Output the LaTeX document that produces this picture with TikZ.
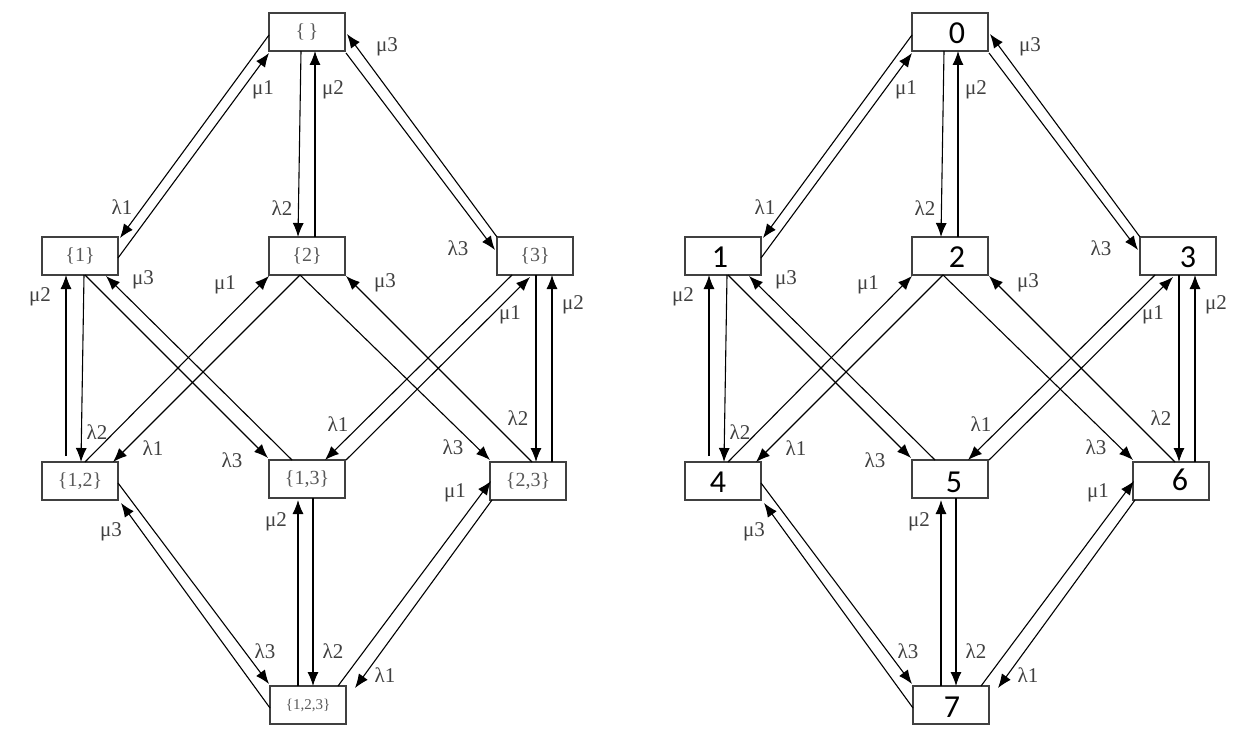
\documentclass[tikz,border=0pt]{standalone}
\usepackage{fontspec}
\setmainfont{Liberation Serif}
\newfontfamily\digitfont{Carlito}
\usetikzlibrary{arrows.meta,calc}
\tikzset{
 state/.style={draw=black!75, line width=1.8pt, minimum width=76pt, minimum height=38pt, inner sep=0pt},
 setlab/.style={text=black!65, font=\fontsize{20}{20}\selectfont, inner sep=0pt},
 numlab/.style={font=\digitfont\fontsize{32}{32}\selectfont, inner sep=0pt},
 trans/.style={line width=1.1pt, -{Latex[length=14pt,width=11pt]}},
 rate/.style={text=black!75, font=\fontsize{21}{21}\selectfont, inner sep=0pt},
}
\newcommand\placestates[1]{%
 \node[state] (#10) at (307,32) {};
 \node[state] (#11) at (80,256) {};
 \node[state] (#12) at (307,256) {};
 \node[state] (#13) at (535,256) {};
 \node[state] (#14) at (80,481) {};
 \node[state] (#15) at (307,479) {};
 \node[state] (#16) at (528,481) {};
 \node[state] (#17) at (308,705) {};
}
\newcommand\alledges[1]{%
 \draw[trans] ($(#10)+(-38,3)$) -- ($(#11)+(40,-18)$);
 \draw[trans] ($(#11)+(38,2)$) -- ($(#10)+(-38,21)$);
 \draw[trans] ($(#10)+(-6,19)$) -- ($(#12)+(-9,-19)$);
 \draw[trans] ($(#12)+(8,-19)$) -- ($(#10)+(8,19)$);
 \draw[trans] ($(#10)+(39,21)$) -- ($(#13)+(-40,-6)$);
 \draw[trans] ($(#13)+(-38,-19)$) -- ($(#10)+(40,2)$);
 \draw[trans] ($(#14)+(-14,-25)$) -- ($(#11)+(-14,19)$);
 \draw[trans] ($(#11)+(4,19)$) -- ($(#14)+(1,-19)$);
 \draw[trans] ($(#11)+(5,19)$) -- ($(#15)+(-39,-21)$);
 \draw[trans] ($(#15)+(-15,-19)$) -- ($(#11)+(26,20)$);
 \draw[trans] ($(#14)+(5,-19)$) -- ($(#12)+(-38,20)$);
 \draw[trans] ($(#12)+(-7,19)$) -- ($(#14)+(33,-19)$);
 \draw[trans] ($(#12)+(-7,19)$) -- ($(#16)+(-38,-21)$);
 \draw[trans] ($(#16)+(4,-19)$) -- ($(#12)+(39,20)$);
 \draw[trans] ($(#13)+(-23,19)$) -- ($(#15)+(18,-19)$);
 \draw[trans] ($(#15)+(39,-19)$) -- ($(#13)+(-5,21)$);
 \draw[trans] ($(#13)+(1,19)$) -- ($(#16)+(8,-19)$);
 \draw[trans] ($(#16)+(24,-19)$) -- ($(#13)+(17,19)$);
 \draw[trans] ($(#14)+(38,2)$) -- ($(#17)+(-39,-21)$);
 \draw[trans] ($(#17)+(-38,3)$) -- ($(#14)+(41,22)$);
 \draw[trans] ($(#17)+(-10,-19)$) -- ($(#15)+(-9,21)$);
 \draw[trans] ($(#15)+(6,19)$) -- ($(#17)+(5,-19)$);
 \draw[trans] ($(#17)+(30,-19)$) -- ($(#16)+(-37,0)$);
 \draw[trans] ($(#16)+(-36,19)$) -- ($(#17)+(47,-17)$);
}
\newcommand\allrates[1]{%
 \node[rate] (#1ra) at (263,90) {μ1};
 \node[rate] (#1rb) at (333,90) {μ2};
 \node[rate] (#1rc) at (387,47) {μ3};
 \node[rate] (#1rd) at (122,207) {λ1};
 \node[rate] (#1re) at (282,208) {λ2};
 \node[rate] (#1rf) at (458,248) {λ3};
 \node[rate] (#1rg) at (40,297) {μ2};
 \node[rate] (#1rh) at (143,280) {μ3};
 \node[rate] (#1ri) at (225,285) {μ1};
 \node[rate] (#1rj) at (385,283) {μ3};
 \node[rate] (#1rk) at (510,315) {μ1};
 \node[rate] (#1rl) at (573,305) {μ2};
 \node[rate] (#1rm) at (97,432) {λ2};
 \node[rate] (#1rn) at (153,448) {λ1};
 \node[rate] (#1ro) at (232,460) {λ3};
 \node[rate] (#1rp) at (338,424) {λ1};
 \node[rate] (#1rq) at (453,447) {λ3};
 \node[rate] (#1rr) at (518,418) {λ2};
 \node[rate] (#1rs) at (111,532) {μ3};
 \node[rate] (#1rt) at (276,522) {μ2};
 \node[rate] (#1ru) at (265,651) {λ3};
 \node[rate] (#1rv) at (333,651) {λ2};
 \node[rate] (#1rw) at (385,675) {λ1};
 \node[rate] (#1rx) at (455,493) {μ1};
}
\begin{document}
\begin{tikzpicture}[x=1pt,y=-1pt]
\useasboundingbox (0,0) rectangle (1247,738);
% left diagram
\placestates{L}
\node[setlab] (Lt0) at (307,32) {\{\,\}};
\node[setlab] (Lt1) at (80,256) {\{1\}};
\node[setlab] (Lt2) at (307,256) {\{2\}};
\node[setlab] (Lt3) at (535,256) {\{3\}};
\node[setlab] (Lt4) at (80,481) {\{1,2\}};
\node[setlab] (Lt5) at (307,479) {\{1,3\}};
\node[setlab] (Lt6) at (528,481) {\{2,3\}};
\node[setlab, font=\fontsize{15}{15}\selectfont] (Lt7) at (308,705) {\{1,2,3\}};
\alledges{L}
\allrates{L}
% right diagram
\begin{scope}[xshift=643pt]
\placestates{R}
\node[numlab] (Rt0) at (314,33) {0};
\node[numlab] (Rt1) at (77,257) {1};
\node[numlab] (Rt2) at (314,257) {2};
\node[numlab] (Rt3) at (545,257) {3};
\node[numlab] (Rt4) at (75,482) {4};
\node[numlab] (Rt5) at (311,482) {5};
\node[numlab] (Rt6) at (537,480) {6};
\node[numlab] (Rt7) at (309,707) {7};
\alledges{R}
\allrates{R}
\end{scope}
\end{tikzpicture}
\end{document}
